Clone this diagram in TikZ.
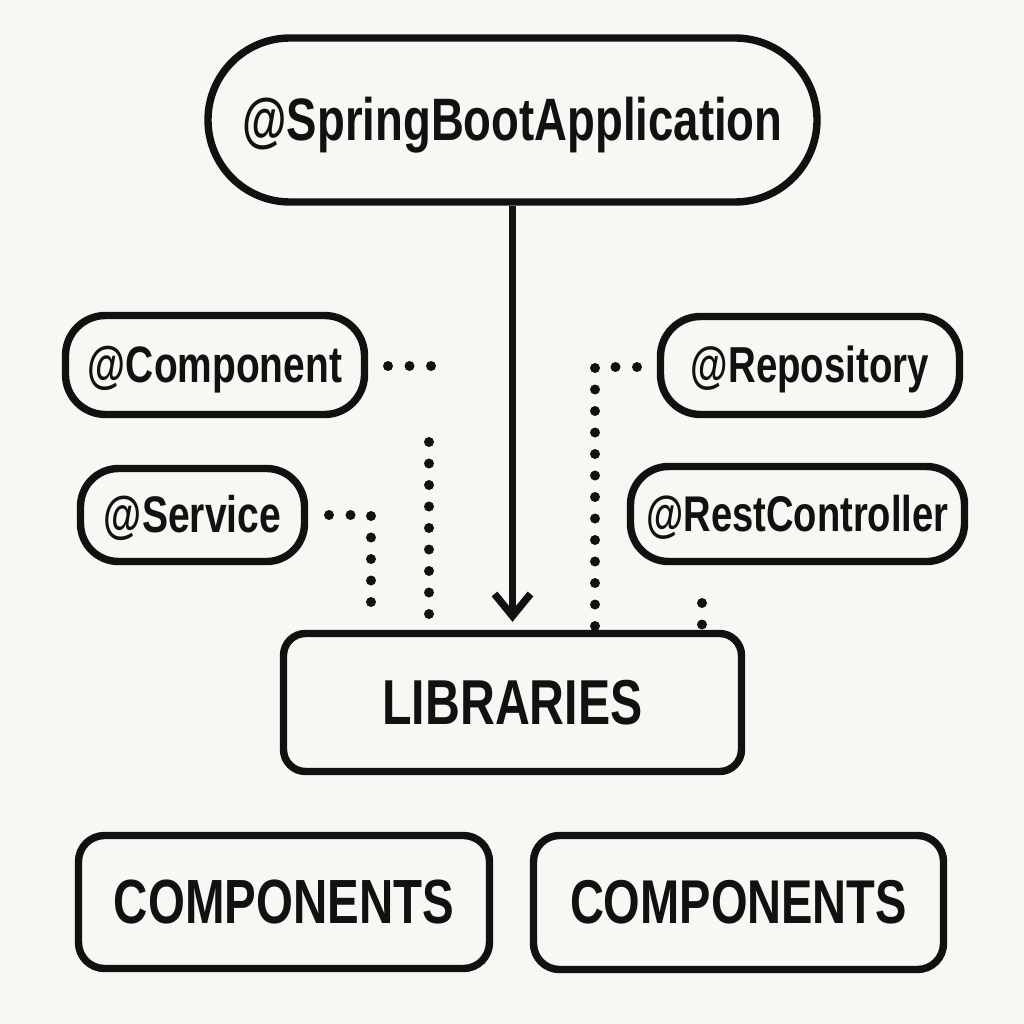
\documentclass[tikz,border=0pt]{standalone}
\usepackage{fontspec}
\setmainfont{Liberation Sans}[FakeStretch=0.76]
\usetikzlibrary{arrows.meta}
\definecolor{bg}{HTML}{F8F7F3}
\definecolor{ink}{HTML}{111111}
\newcommand{\fitw}[2]{\resizebox{#1}{!}{\bfseries\vphantom{X}\smash{#2}}}
\begin{document}
\begin{tikzpicture}[x=0.25mm,y=-0.25mm,
  box/.style={draw=ink, line width=1.85mm, inner sep=0pt, fill=bg, text=ink},
  dotline/.style={draw=ink, line width=2.5mm, line cap=round, dash pattern=on 0pt off 5.375mm},
  mainarrow/.style={draw=ink, line width=1.85mm, -{Straight Barb[length=5.5mm,width=9mm]}}]
\fill[bg] (0,0) rectangle (1024,1024);
\useasboundingbox (0,0) rectangle (1024,1024);

\node[box, minimum width=152.25mm, minimum height=41mm, rounded corners=20.5mm] (top) at (512.5,120) {\fitw{135mm}{@SpringBootApplication}};
\node[box, minimum width=74.75mm, minimum height=24.75mm, rounded corners=10mm] (comp) at (215,365) {\fitw{63.5mm}{@Component}};
\node[box, minimum width=56mm, minimum height=23.25mm, rounded corners=9.5mm] (serv) at (192.5,515) {\fitw{44.25mm}{@Service}};
\node[box, minimum width=74.75mm, minimum height=24.5mm, rounded corners=10mm] (repo) at (810,365.5) {\fitw{59.5mm}{@Repository}};
\node[box, minimum width=83.5mm, minimum height=23.75mm, rounded corners=9.5mm] (rest) at (797.5,514) {\fitw{75.5mm}{@RestController}};
\node[box, minimum width=114.5mm, minimum height=34.5mm, rounded corners=5.5mm] (lib) at (512.5,702.5) {\fitw{65mm}{LIBRARIES}};
\node[box, minimum width=102.75mm, minimum height=33.25mm, rounded corners=6.5mm] (cl) at (284,902) {\fitw{85mm}{COMPONENTS}};
\node[box, minimum width=102.5mm, minimum height=33.5mm, rounded corners=6.5mm] (cr) at (738.5,902.5) {\fitw{84.25mm}{COMPONENTS}};

\draw[mainarrow, shorten >=2mm] (top.south) -- (lib.north);

\coordinate (ca) at (388,366);
\coordinate (cb) at (431.5,366);
\coordinate (cc) at (429,442);
\coordinate (cd) at (429,617);
\coordinate (sa) at (329,515);
\coordinate (sb) at (371,515);
\coordinate (sc) at (371,623.5);
\coordinate (ra) at (637,367);
\coordinate (rb) at (595,367);
\coordinate (rc) at (595,627);
\coordinate (ta) at (702,603);
\coordinate (tb) at (702,625.5);

\draw[dotline] (ca) -- (cb);
\draw[dotline] (cc) -- (cd);
\draw[dotline] (sa) -- (sb) -- (sc);
\draw[dotline] (ra) -- (rb) -- (rc);
\draw[dotline] (ta) -- (tb);
\end{tikzpicture}
\end{document}
